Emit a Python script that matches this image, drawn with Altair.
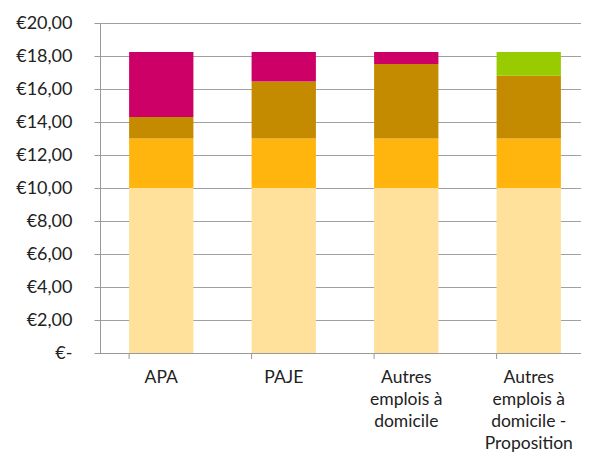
import altair as alt
import pandas as pd

categories = ["APA", "PAJE", "Autres emplois à domicile", "Autres emplois à domicile - Proposition"]
label_lines = {
    "APA": ["APA"],
    "PAJE": ["PAJE"],
    "Autres emplois à domicile": ["Autres", "emplois à", "domicile"],
    "Autres emplois à domicile - Proposition": ["Autres", "emplois à", "domicile -", "Proposition"],
}
series = ["Part 1", "Part 2", "Part 3", "Part 4", "Part 5"]
colors = ["#FFE19C", "#FFB50D", "#C48B00", "#CC0066", "#99CC00"]
part1 = [10.0, 10.0, 10.0, 10.0]
part2 = [3.0, 3.0, 3.0, 3.0]
part3 = [1.3, 3.45, 4.52, 3.8]
part4 = [3.95, 1.8, 0.73, 0.0]
part5 = [0.0, 0.0, 0.0, 1.45]
y_ticks = [0, 2, 4, 6, 8, 10, 12, 14, 16, 18, 20]

rows = []
for s_i, (s, vals) in enumerate(zip(series, [part1, part2, part3, part4, part5])):
    for c, v in zip(categories, vals):
        rows.append({"cat": c, "series": s, "order": s_i, "value": v})
df = pd.DataFrame(rows)

label_expr = " : ".join(
    [f"datum.value == '{c}' ? {label_lines[c]!r}" for c in categories]
) + " : datum.label"

W, H = 481, 330

xscale = alt.Scale(domain=categories, range=[0, 490], paddingInner=0.475, paddingOuter=0.2375)

bars = alt.Chart(df).mark_bar(stroke=None).encode(
    x=alt.X("cat:N", sort=categories, scale=xscale,
            axis=alt.Axis(title=None, labelAngle=0, ticks=False, domain=True,
                          domainColor="#999999", domainWidth=1,
                          labelExpr=label_expr, labelFont="Lato", labelFontSize=17.5,
                          labelColor="#222222", labelLineHeight=22.3, labelPadding=15,
                          labelBaseline="top")),
    y=alt.Y("value:Q", stack="zero", scale=alt.Scale(domain=[0, 20], nice=False),
            axis=alt.Axis(title=None, values=y_ticks, grid=True, gridColor="#A0A0A0",
                          gridWidth=1, domainColor="#999999", tickColor="#999999",
                          tickSize=6, labelPadding=22, labelFont="Lato", labelFontSize=18,
                          labelColor="#222222",
                          labelExpr="datum.value == 0 ? '€-\u00a0\u00a0' : '€' + replace(format(datum.value, '.2f'), '.', ',')")),
    color=alt.Color("series:N", scale=alt.Scale(domain=series, range=colors), legend=None),
    order=alt.Order("order:Q"),
)

tick_df = pd.DataFrame({"cat": categories})
ticks = alt.Chart(tick_df).mark_rule(color="#999999", strokeWidth=1).encode(
    x=alt.X("cat:N", sort=categories, scale=xscale, bandPosition=0),
    y=alt.value(H),
    y2=alt.value(H + 6),
)

chart = alt.layer(bars, ticks).properties(
    width=W, height=H,
    autosize=alt.AutoSizeParams(type="none"),
    padding={"left": 92, "top": 15, "right": 0, "bottom": 102},
).configure_view(stroke=None).configure(background="white")

chart.save("out.html", embed_options={"renderer": "svg", "actions": False})
